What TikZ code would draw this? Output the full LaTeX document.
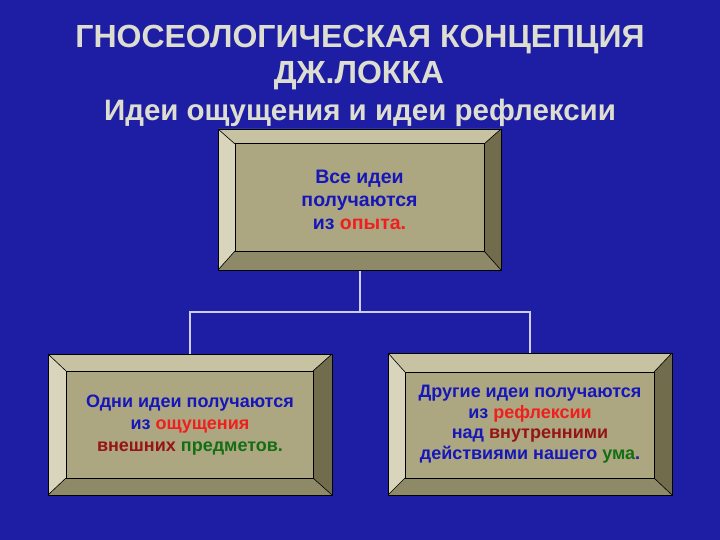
\documentclass[tikz,border=0pt]{standalone}
\usepackage{fontspec}
\setmainfont{Liberation Sans}
\definecolor{bg}{RGB}{30,30,165}
\definecolor{face}{RGB}{172,167,128}
\definecolor{bevT}{RGB}{198,194,162}
\definecolor{bevL}{RGB}{216,213,188}
\definecolor{bevR}{RGB}{112,108,76}
\definecolor{bevB}{RGB}{142,138,104}
\definecolor{tblue}{RGB}{22,22,185}
\definecolor{tred}{RGB}{240,30,30}
\definecolor{tdred}{RGB}{150,20,20}
\definecolor{tgreen}{RGB}{20,110,20}
\definecolor{ttl}{RGB}{222,222,208}
\definecolor{conn}{RGB}{205,205,238}
\newcommand\bevelbox[8]{%
  \fill[bevL] (#1,#2) -- (#1+#5,#2+#6) -- (#1+#5,#4-#8) -- (#1,#4) -- cycle;
  \fill[bevT] (#1,#2) -- (#3,#2) -- (#3-#7,#2+#6) -- (#1+#5,#2+#6) -- cycle;
  \fill[bevR] (#3,#2) -- (#3,#4) -- (#3-#7,#4-#8) -- (#3-#7,#2+#6) -- cycle;
  \fill[bevB] (#1,#4) -- (#3,#4) -- (#3-#7,#4-#8) -- (#1+#5,#4-#8) -- cycle;
  \draw[black, line width=0.6pt] (#1,#2) -- (#1+#5,#2+#6) (#3,#2) -- (#3-#7,#2+#6)
     (#1,#4) -- (#1+#5,#4-#8) (#3,#4) -- (#3-#7,#4-#8);
  \draw[black, line width=1pt, fill=face] (#1+#5,#2+#6) rectangle (#3-#7,#4-#8);
  \draw[black, line width=0.8pt] (#1,#2) rectangle (#3,#4);
}
\begin{document}
\begin{tikzpicture}[x=1pt,y=-1pt,
  ttlstyle/.style={text=ttl, font=\bfseries\fontsize{#1}{#1}\selectfont, inner sep=0pt, anchor=base},
  boxtext/.style={draw=none, align=center, inner sep=0pt, text=tblue},
  conline/.style={draw=conn, line width=2pt}]
\useasboundingbox (0,0) rectangle (720,540);
\fill[bg] (0,0) rectangle (720,540);

% title
\node[ttlstyle=32] (t1) at (360,48) {ГНОСЕОЛОГИЧЕСКАЯ КОНЦЕПЦИЯ};
\node[ttlstyle=32] (t2) at (359,84) {ДЖ.ЛОККА};
\node[ttlstyle=29.5] (t3) at (360,121) {Идеи ощущения и идеи рефлексии};

% boxes
\bevelbox{218}{129}{501}{270}{17}{15}{17}{19}
\bevelbox{48}{354}{332}{495}{18}{17}{19}{17}
\bevelbox{388}{353}{672}{495}{17}{19}{18}{17}

\node[boxtext, minimum width=283pt, minimum height=141pt,
  font=\bfseries\fontsize{19.5}{23}\selectfont] (top) at (359.5,200)
  {Все идеи\\получаются\\из \textcolor{tred}{опыта.}};
\node[boxtext, minimum width=284pt, minimum height=141pt,
  font=\bfseries\fontsize{18}{22}\selectfont] (left) at (190,425)
  {Одни идеи получаются\\из \textcolor{tred}{ощущения}\\\textcolor{tdred}{внешних} \textcolor{tgreen}{предметов.}};
\node[boxtext, minimum width=284pt, minimum height=142pt,
  font=\bfseries\fontsize{18}{20.5}\selectfont] (right) at (530,424)
  {Другие идеи получаются\\из \textcolor{tred}{рефлексии}\\над \textcolor{tdred}{внутренними}\\действиями нашего \textcolor{tgreen}{ума}.};

% connectors
\coordinate (j) at (359.5,312);
\draw[conline] (top.south) -- (j);
\draw[conline] (left.north) |- (j) -| (right.north);
\end{tikzpicture}
\end{document}
